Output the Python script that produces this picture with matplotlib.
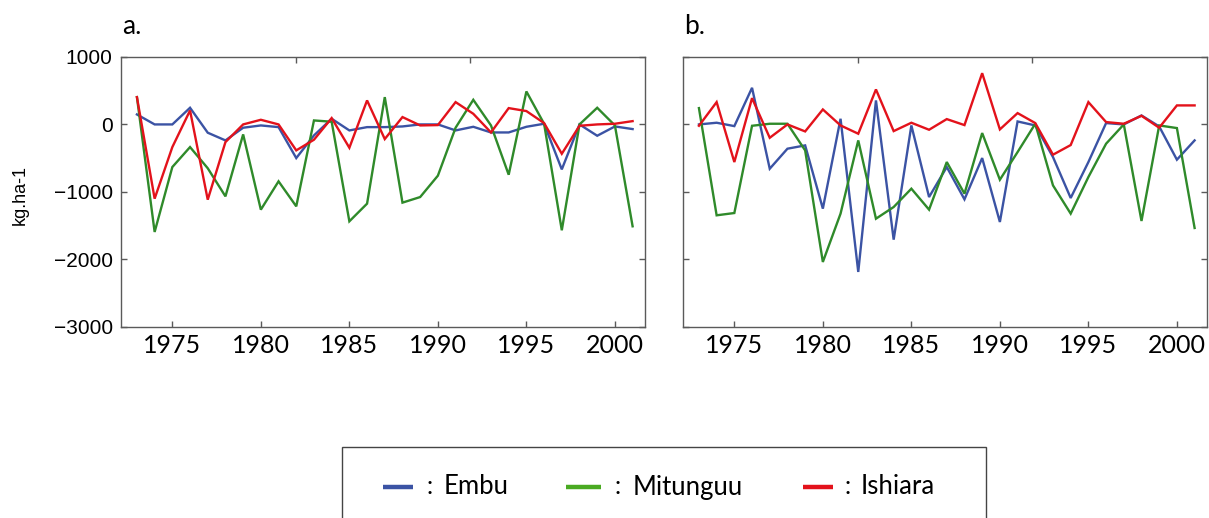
import matplotlib
matplotlib.use("Agg")
import matplotlib.pyplot as plt
from matplotlib.lines import Line2D
from matplotlib.patches import Rectangle

years = list(range(1973, 2002))

# Panel a: yield anomalies (kg/ha)
embu_a = [148, 0, 0, 247, -123, -237, -49, -15, -40, -499, -163, 84, -89, -40,
          -40, -30, 0, 0, -89, -35, -119, -119, -35, 10, -667, 0, -168, -30, -69]
mitunguu_a = [405, -1595, -632, -336, -650, -1067, -148, -1264, -844, -1215, 59, 40, -1437, -1175,
              405, -1160, -1077, -760, -49, 365, -15, -746, 489, 10, -1570, 0, 247, -15, -1511]
ishiara_a = [405, -1101, -336, 207, -1116, -262, 0, 69, 0, -385, -227, 94, -346, 356,
             -217, 109, -15, -10, 331, 158, -119, 242, 198, 20, -435, -20, 0, 10, 49]

# Panel b: yield anomalies (kg/ha)
embu_b = [0, 25, -25, 543, -657, -360, -311, -1249, 84, -2188, 356, -1709, -15, -1077,
          -632, -1111, -499, -1447, 44, -15, -484, -1091, -558, 20, 0, 133, -30, -523, -237]
mitunguu_b = [242, -1348, -1314, -20, 10, 10, -385, -2040, -1323, -237, -1398, -1225, -953, -1264,
              -558, -1027, -128, -820, -410, 10, -904, -1323, -780, -286, 0, -1432, -15, -54, -1536]
ishiara_b = [-20, 331, -558, 390, -198, 0, -104, 222, -15, -138, 519, -99, 25, -79,
             79, -10, 760, -74, 168, 20, -449, -306, 331, 35, 10, 128, -49, 282, 282]

station_names = ["Embu", "Mitunguu", "Ishiara"]
line_colors = ["#3b53a4", "#2f8a2a", "#e3121b"]
legend_colors = ["#3b53a4", "#4aaa22", "#e3121b"]

x_ticks = [1975, 1980, 1985, 1990, 1995, 2000]
y_ticks = [-3000, -2000, -1000, 0, 1000]

SANS = "Liberation Sans"
HUMANIST = "Lato"

fig = plt.figure(figsize=(12.09, 5.18), dpi=100)
fig.patch.set_facecolor("white")

W, H = 1209.0, 518.0
panels = [
    ("a.", 121, [embu_a, mitunguu_a, ishiara_a]),
    ("b.", 683, [embu_b, mitunguu_b, ishiara_b]),
]

spine_color = "#5a5a5a"
for idx, (tag, left_px, series) in enumerate(panels):
    ax = fig.add_axes([left_px / W, 1 - 326.7 / H, 524 / W, (326.7 - 57) / H])
    for vals, col in zip(series, line_colors):
        ax.plot(years, vals, color=col, lw=1.7, solid_joinstyle="miter")
    ax.set_xlim(1972.1, 2001.7)
    ax.set_ylim(-3000, 1000)
    ax.set_xticks(x_ticks)
    ax.set_yticks(y_ticks)
    ax.set_xticklabels([str(t) for t in x_ticks], fontfamily=HUMANIST, fontsize=18)
    if idx == 0:
        ax.set_yticklabels([str(t).replace("-", "\u2212") for t in y_ticks],
                           fontfamily=SANS, fontsize=15)
        ax.set_ylabel("kg.ha-1", fontfamily=SANS, fontsize=13)
        ax.yaxis.set_label_coords((29 - left_px) / 524, 0.49)
    else:
        ax.set_yticklabels([])
    ax.tick_params(direction="in", length=4, width=1, color=spine_color,
                   right=True, top=False)
    ax.tick_params(axis="x", pad=5)
    ax.tick_params(axis="y", pad=6)
    for sp in ax.spines.values():
        sp.set_color(spine_color)
        sp.set_linewidth(1.0)
    top = ax.twiny()
    top.set_xlim(0, 3)
    top.set_xticks([1, 2])
    top.set_xticklabels([])
    top.tick_params(direction="in", length=4, width=1, color=spine_color)
    for sp in top.spines.values():
        sp.set_visible(False)
    fig.text((left_px + 1) / W, 1 - 26 / H, tag, fontfamily=HUMANIST,
             fontsize=19, ha="left", va="center")

# Legend box
fig.add_artist(Rectangle((342 / W, -0.05), (986 - 342) / W, 0.05 + 1 - 447 / H,
                         transform=fig.transFigure, fill=False,
                         edgecolor="#444444", lw=1.0))
handle_x = [(383, 413), (566, 601), (803, 833)]
colon_x = [427, 614, 844]
name_x = [444, 633, 861]
ly = 1 - 487 / H
for name, col, (hx0, hx1), cx, nx in zip(station_names, legend_colors, handle_x, colon_x, name_x):
    fig.add_artist(Line2D([hx0 / W, hx1 / W], [ly, ly], transform=fig.transFigure,
                          color=col, lw=3.2, solid_capstyle="butt"))
    fig.text(cx / W, ly, ":", fontfamily=HUMANIST, fontsize=18, ha="left", va="center")
    fig.text(nx / W, ly, name, fontfamily=HUMANIST, fontsize=18.5, ha="left", va="center")

fig.savefig("out.png", dpi=100, facecolor="white")
